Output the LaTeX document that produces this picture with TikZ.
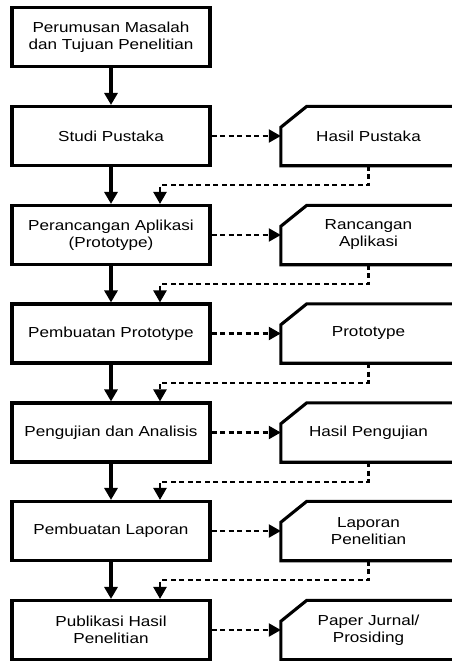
\documentclass[tikz,border=0pt]{standalone}
\usepackage{fontspec}
\setmainfont{Liberation Sans}[FakeStretch=1.18]
\usetikzlibrary{arrows.meta,calc}
\begin{document}
\begin{tikzpicture}[x=1pt,y=-1pt,
  lbox/.style={draw=black,line width=3.1pt,minimum width=198pt,minimum height=59pt,inner sep=0pt,align=center,font=\fontsize{14.5}{17}\selectfont},
  rbox/.style={draw=none,minimum width=175pt,minimum height=59pt,inner sep=0pt,align=center,font=\fontsize{14.5}{17}\selectfont},
  rshape/.style={line width=3.1pt,line join=miter},
  mainarrow/.style={line width=3.1pt,-{Triangle[width=13pt,length=12pt]}},
  dasharrow/.style={line width=2.3pt,dash pattern=on 5pt off 3.5pt,-{Triangle[width=13pt,length=12pt]}}
]
\useasboundingbox (0,0) rectangle (452,661);
\clip (0,0) rectangle (452,661);
% left boxes
\node[lbox] (l1) at (111,37) {Perumusan Masalah\\dan Tujuan Penelitian};
\node[lbox] (l2) at (111,136) {Studi Pustaka};
\node[lbox] (l3) at (111,235) {Perancangan Aplikasi\\(Prototype)};
\node[lbox] (l4) at (111,333.5) {Pembuatan Prototype};
\node[lbox] (l5) at (111,432.5) {Pengujian dan Analisis};
\node[lbox] (l6) at (111,531) {Pembuatan Laporan};
\node[lbox] (l7) at (111,630) {Publikasi Hasil\\Penelitian};
% right boxes (text nodes)
\node[rbox] (r2) at (368.5,136) {Hasil Pustaka};
\node[rbox] (r3) at (368.5,235) {Rancangan\\Aplikasi};
\node[rbox] (r4) at (368.5,333.5) {Prototype};
\node[rbox] (r5) at (368.5,432.5) {Hasil Pengujian};
\node[rbox] (r6) at (368.5,531) {Laporan\\Penelitian};
\node[rbox] (r7) at (368.5,630) {Paper Jurnal/\\Prosiding};
% chamfered outlines
\foreach \r in {r2,r3,r4,r5,r6,r7}{
  \draw[rshape] ($(\r.north west)+(26,0)$) -- (\r.north east) -- (\r.south east)
     -- (\r.south west) -- ($(\r.north west)+(0,21)$) -- cycle;
}
% main vertical arrows
\foreach \a/\b in {l1/l2,l2/l3,l3/l4,l4/l5,l5/l6,l6/l7}{
  \draw[mainarrow] (\a.south) -- (\b.north);
}
% dashed arrows to outputs
\foreach \i in {2,3,4,5,6,7}{
  \draw[dasharrow] (l\i.east) -- (r\i.west);
}
% return connectors
\foreach \a/\b in {r2/l3,r3/l4,r4/l5,r5/l6,r6/l7}{
  \draw[dasharrow] (\a.south) -- ++(0,19.5) -| ($(\b.north)+(49,0)$);
}
\end{tikzpicture}
\end{document}
